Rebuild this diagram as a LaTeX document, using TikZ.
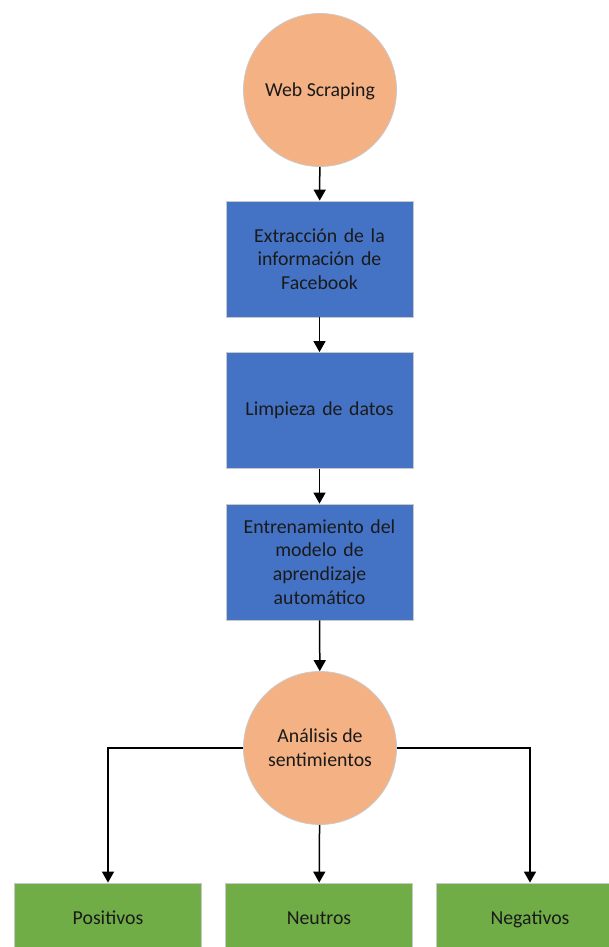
\documentclass[tikz,border=0pt]{standalone}
\usepackage{fontspec}
\setmainfont{Carlito}
\usetikzlibrary{arrows.meta}
\definecolor{orng}{HTML}{F4B183}
\definecolor{blu}{HTML}{4472C4}
\definecolor{grn}{HTML}{70AD47}
\definecolor{edge}{HTML}{C9C9C9}
\definecolor{txt}{HTML}{1A1A1A}
\begin{document}
\begin{tikzpicture}[x=1pt,y=-1pt,
  every node/.style={font=\fontsize{19.8}{23.8}\selectfont, text=txt, align=center},
  circ/.style={circle, fill=orng, draw=edge, line width=0.8pt, minimum size=153pt, inner sep=0pt},
  bluebox/.style={rectangle, fill=blu, draw=edge, line width=0.8pt, minimum width=187pt, minimum height=116pt, inner sep=0pt},
  greenbox/.style={rectangle, fill=grn, draw=edge, line width=0.8pt, minimum width=187pt, minimum height=70pt, inner sep=0pt, text height=15pt, text depth=2pt},
  arr/.style={draw=black, line width=1.5pt, -{Triangle[width=12pt,length=11pt]}}]
\useasboundingbox (0,0) rectangle (609,947);
\clip (0,0) rectangle (609,947);
\fill[white] (0,0) rectangle (609,947);
\node[circ, text height=15pt, text depth=2pt] (ws) at (320,90) {Web Scraping};
\node[bluebox, text width=170pt] (b1) at (319.5,259) {Extracción de la\\información de\\Facebook};
\node[bluebox, text width=170pt] (b2) at (319.5,410.5) {Limpieza de datos};
\node[bluebox, text width=180pt] (b3) at (319.5,562) {Entrenamiento del\\modelo de\\aprendizaje\\automático};
\node[circ] (as) at (320,748) {Análisis de\\sentimientos};
\node[greenbox] (pos) at (108,918) {Positivos};
\node[greenbox] (neu) at (319,918) {Neutros};
\node[greenbox] (neg) at (530,918) {Negativos};
\draw[arr] (ws) -- (b1);
\draw[arr] (b1) -- (b2);
\draw[arr] (b2) -- (b3);
\draw[arr] (b3) -- (as);
\draw[arr] (as) -- (neu);
\draw[arr] (as.west) -| (pos.north);
\draw[arr] (as.east) -| (neg.north);
\end{tikzpicture}
\end{document}
